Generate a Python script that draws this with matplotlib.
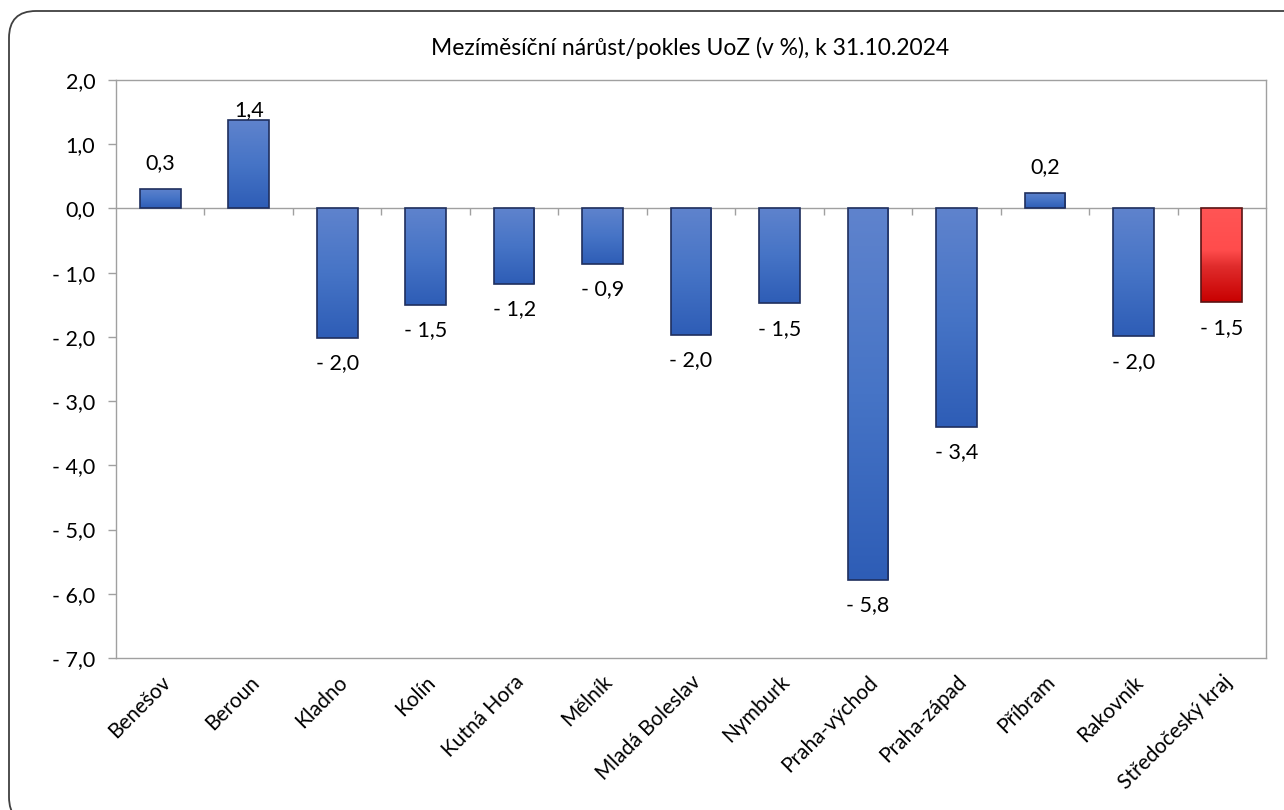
"""Mezimesicni narust/pokles UoZ - bar chart with Excel-like gradient bars."""
import numpy as np
import matplotlib
matplotlib.use("Agg")
import matplotlib.pyplot as plt
from matplotlib.colors import LinearSegmentedColormap
from matplotlib.patches import FancyBboxPatch
import matplotlib.ticker as ticker

plt.rcParams["font.family"] = ["Lato", "DejaVu Sans"]

# data
districts = ["Benešov", "Beroun", "Kladno", "Kolín", "Kutná Hora", "Mělník",
             "Mladá Boleslav", "Nymburk", "Praha-východ", "Praha-západ",
             "Příbram", "Rakovník", "Středočeský kraj"]
change_pct = [0.31, 1.37, -2.02, -1.50, -1.17, -0.86, -1.97, -1.48,
              -5.78, -3.40, 0.24, -1.99, -1.46]
is_region = [False] * 12 + [True]

TITLE = "Mezíměsíční nárůst/pokles UoZ (v %), k 31.10.2024"
YMIN, YMAX = -7.0, 2.0
GRID_GRAY = "#a0a0a0"

blue_cmap = LinearSegmentedColormap.from_list("blue", ["#5f83cd", "#4674c6", "#2e5db6"])
red_cmap = LinearSegmentedColormap.from_list(
    "red", [(0.0, "#ff5555"), (0.45, "#ff4c4c"), (0.62, "#e02c2c"), (1.0, "#c80000")])


def cz(v):
    s = f"{abs(v):.1f}".replace(".", ",")
    return "- " + s if round(v, 1) < 0 else s


fig = plt.figure(figsize=(12.84, 8.10), dpi=100)
ax = fig.add_axes([116 / 1284, 1 - 658 / 810, 1150 / 1284, 578 / 810])

x = np.arange(len(districts))
bars = ax.bar(x, change_pct, width=0.46, facecolor="none", zorder=3)

grad = np.linspace(0, 1, 256).reshape(-1, 1)
for bar, region in zip(bars, is_region):
    bar.set_edgecolor("#5a1414" if region else "#1f2f5e")
    bar.set_linewidth(1.2)
    x0, w = bar.get_x(), bar.get_width()
    y0, h = bar.get_y(), bar.get_height()
    top, bottom = max(y0, y0 + h), min(y0, y0 + h)
    im = ax.imshow(grad, cmap=red_cmap if region else blue_cmap, aspect="auto",
                   extent=[x0, x0 + w, bottom, top], origin="upper", zorder=2,
                   interpolation="bilinear")
    im.set_clip_path(bar)

# value labels
for xi, v in zip(x, change_pct):
    if v >= 0:
        ax.text(xi, min(v + 0.31, 1.44), cz(v), ha="center", va="baseline",
                fontsize=15.5, zorder=4)
    else:
        ax.text(xi, v - 0.24, cz(v), ha="center", va="top", fontsize=15.5, zorder=4)

ax.set_xlim(-0.5, len(districts) - 0.5)
ax.set_ylim(YMIN, YMAX)
ax.yaxis.set_major_locator(ticker.MultipleLocator(1.0))
ax.yaxis.set_major_formatter(ticker.FuncFormatter(lambda v, p: cz(v)))
ax.tick_params(axis="y", direction="out", length=6, width=1, color=GRID_GRAY,
               labelsize=15.5, pad=9)

ax.set_xticks(x)
ax.set_xticklabels(districts, rotation=45, ha="right", va="top",
                   rotation_mode="anchor", fontsize=15)
ax.tick_params(axis="x", length=0, pad=10)

for side in ["left", "right", "top", "bottom"]:
    ax.spines[side].set_color(GRID_GRAY)
    ax.spines[side].set_linewidth(1)

# category axis crossing at zero, tick marks between categories
secax = ax.secondary_xaxis((0 - YMIN) / (YMAX - YMIN))
secax.xaxis.set_ticks_position("bottom")
secax.set_xticks(np.arange(0.5, len(districts) - 1, 1.0))
secax.set_xticklabels([])
secax.tick_params(axis="x", which="both", direction="out", length=5, width=1,
                  color=GRID_GRAY, labelbottom=False, labeltop=False)
for sp in secax.spines.values():
    sp.set_color(GRID_GRAY)
    sp.set_linewidth(1)

fig.text(690 / 1284, 1 - 48 / 810, TITLE, ha="center", va="center", fontsize=16.5)

# rounded chart-area border (runs off the right and bottom edges)
border = FancyBboxPatch((0.09, -0.14), 13.05, 8.13,
                        boxstyle="round,pad=0,rounding_size=0.27",
                        transform=fig.dpi_scale_trans, facecolor="none",
                        edgecolor="#404040", linewidth=1.3)
fig.add_artist(border)

fig.savefig("out.png", dpi=100)
